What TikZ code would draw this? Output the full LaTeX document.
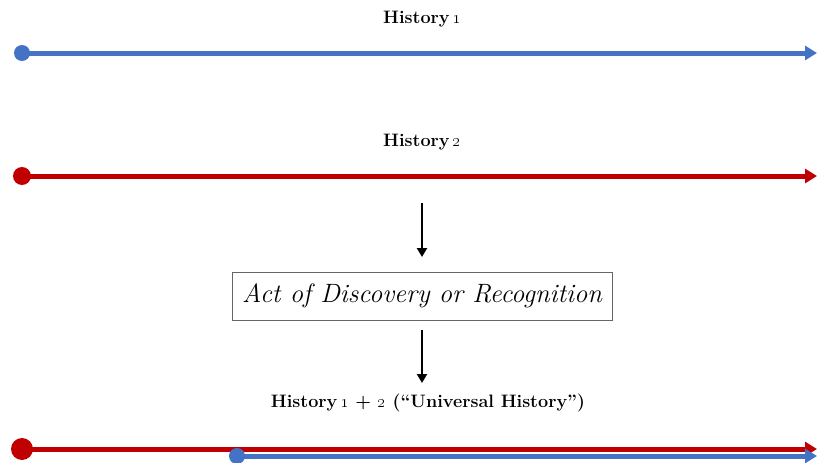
\documentclass[tikz,border=0pt]{standalone}
\usetikzlibrary{arrows.meta}
\definecolor{hblue}{RGB}{68,114,196}
\definecolor{hred}{RGB}{192,0,0}
\newcommand{\osn}[1]{{\boldmath\oldstylenums{#1}}}
\begin{document}
\begin{tikzpicture}[x=1pt,y=-1pt,
  tl/.style={line width=5pt,-{Triangle[length=12pt,width=14pt]}},
  blk/.style={line width=2.8pt,-{Triangle[length=9pt,width=10pt]}},
  lbl/.style={font=\fontsize{18}{21}\selectfont\bfseries, inner sep=0pt},
  boxn/.style={draw=black!60, line width=0.8pt, minimum width=380pt, minimum height=48pt, font=\fontsize{26.5}{30}\selectfont\itshape, inner sep=0pt}]
\useasboundingbox (0,0) rectangle (817,463);
% History 1
\node[lbl] (t1) at (422,19) {History\,\osn{1}};
\coordinate (a1) at (22,53);
\coordinate (b1) at (817,53);
\draw[tl, hblue] (a1) -- (b1);
\fill[hblue] (a1) circle (8pt);
% History 2
\node[lbl] (t2) at (422,142) {History\,\osn{2}};
\coordinate (a2) at (22,176);
\coordinate (b2) at (817,176);
\draw[tl, hred] (a2) -- (b2);
\fill[hred] (a2) circle (9pt);
% box
\node[boxn] (box) at (422,296) {Act of Discovery or Recognition};
\coordinate (p1) at (422,203);
\coordinate (q1) at (422,257);
\draw[blk] (p1) -- (q1);
\node[lbl] (t3) at (428,403) {History\,\osn{1} + \osn{2} (``Universal History'')};
\coordinate (p2) at (422,330);
\coordinate (q2) at (422,383);
\draw[blk] (p2) -- (q2);
% bottom
\coordinate (a3) at (22,449);
\coordinate (b3) at (817,449);
\coordinate (a4) at (237,456);
\coordinate (b4) at (817,456);
\draw[tl, hred] (a3) -- (b3);
\fill[hred] (a3) circle (11pt);
\draw[tl, hblue] (a4) -- (b4);
\fill[hblue] (a4) circle (8pt);
\end{tikzpicture}
\end{document}
